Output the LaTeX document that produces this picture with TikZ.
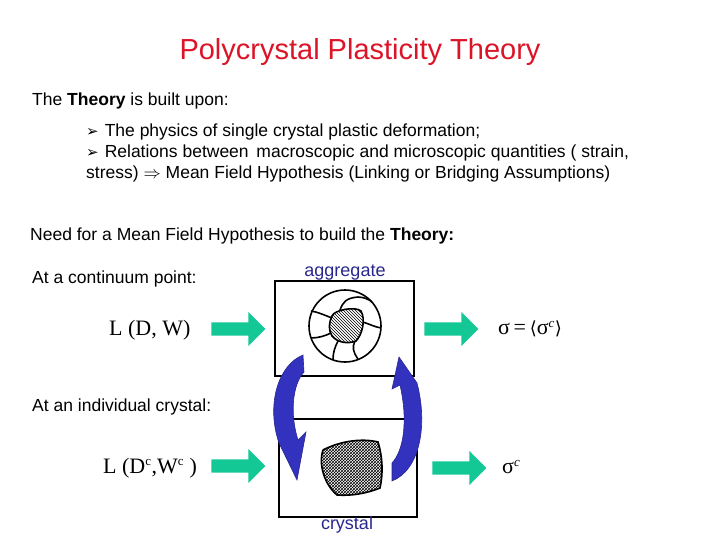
\documentclass[tikz,border=0pt]{standalone}
\usepackage{fontspec}
\setmainfont{Liberation Sans}
\newfontfamily\serifr{Liberation Serif}
\newfontfamily\dejavu{DejaVu Sans}
\usetikzlibrary{patterns,shapes.arrows}
\definecolor{titlered}{RGB}{220,20,40}
\definecolor{agreen}{RGB}{20,200,150}
\definecolor{ablue}{RGB}{50,50,190}
\definecolor{lblue}{RGB}{40,40,140}
\tikzset{
  txt/.style={anchor=west,inner sep=0pt,font=\fontsize{17.5}{21}\selectfont},
  box/.style={draw,line width=2pt},
  garrow/.style={single arrow,fill=agreen,draw=none,minimum height=54pt,minimum width=34pt,single arrow head extend=5pt,single arrow head indent=0pt,inner sep=3pt},
  curv/.style={fill=ablue,draw=lblue,line width=0.6pt},
  gl/.style={line width=1.6pt},
  mth/.style={inner sep=0pt,font=\serifr\fontsize{22}{25}\selectfont}
}
\begin{document}
\begin{tikzpicture}[x=1pt,y=-1pt]
\useasboundingbox (0,0) rectangle (720,540);
\node[font=\fontsize{29}{34}\selectfont,text=titlered] (title) at (360,52) {Polycrystal Plasticity Theory};
\node[txt] (t1) at (32,101) {The \textbf{Theory} is built upon:};
\node[txt] (b1) at (86,132) {{\dejavu\fontsize{15}{16}\selectfont ➢}\hspace{6pt}The physics of single crystal plastic deformation;};
\node[txt] (b2) at (86,153) {{\dejavu\fontsize{15}{16}\selectfont ➢}\hspace{6pt}Relations between\, macroscopic and microscopic quantities ( strain,};
\node[txt] (b3) at (86,174) {stress) {\dejavu$\Rightarrow$} Mean Field Hypothesis (Linking or Bridging Assumptions)};
\node[txt] (need) at (30,236) {Need for a Mean Field Hypothesis to build the \textbf{Theory:}};
\node[txt] (cont) at (32,279) {At a continuum point:};
\node[txt] (indiv) at (32,407) {At an individual crystal:};
% boxes
\draw[box] (275,281) rectangle (414,376);
\draw[box] (279,419) rectangle (417,517);
\node[text=lblue,font=\fontsize{18}{20}\selectfont,inner sep=0pt] (agg) at (345,273) {aggregate};
\node[text=lblue,font=\fontsize{18}{20}\selectfont,inner sep=0pt] (cry) at (347,525) {crystal};
% aggregate drawing
\draw[gl] (345,326) circle (36);
\draw[gl,pattern=north west lines] (332,316) .. controls (334,310) and (355,306) .. (361,311) .. controls (366,320) and (362,335) .. (356,341) .. controls (348,344) and (338,343) .. (332,336) .. controls (328,330) and (329,322) .. (332,316);
\draw[gl] (332,318) .. controls (324,315) and (318,312) .. (311,311);
\draw[gl] (340,310) .. controls (343,302) and (346,298) .. (358,297) .. controls (364,297) and (370,300) .. (372,302);
\draw[gl] (363,322) .. controls (369,324) and (375,327) .. (381,328);
\draw[gl] (355,341) .. controls (352,347) and (353,352) .. (358,359);
\draw[gl] (338,341) .. controls (335,347) and (333,352) .. (333,360);
\draw[gl] (331,333) .. controls (325,336) and (318,338) .. (311,338);
% crystal drawing
\draw[gl,pattern=crosshatch] (323,450) .. controls (340,441) and (362,438) .. (378,442) .. controls (383,458) and (383,475) .. (380,488) .. controls (365,494) and (350,496) .. (337,495) .. controls (325,485) and (318,465) .. (323,450);
% curved arrows
\draw[curv] (303,355) .. controls (278,365) and (266,405) .. (279,443) -- (297,480) -- (306,432) -- (298,440) .. controls (290,415) and (292,385) .. (304,372) -- cycle;
\draw[curv] (392,481) .. controls (420,470) and (428,425) .. (417,383) -- (399,357) -- (392,389) -- (400,385) .. controls (408,420) and (404,450) .. (392,463) -- cycle;
% green arrows
\node[garrow] (g1) at (235,329) {};
\node[garrow] (g2) at (235,466) {};
\node[garrow] (g3) at (448,329) {};
\node[garrow] (g4) at (456,468) {};
\node[mth,anchor=west] (L1) at (109,330) {L (D, W)};
\node[mth,anchor=west] (L2) at (103,468) {L (D\textsuperscript{\fontsize{13}{14}\selectfont c},W\textsuperscript{\fontsize{13}{14}\selectfont c} )};
\node[mth,anchor=west] (s1) at (498,329) {σ\,=\,{\dejavu\fontsize{18}{20}\selectfont ⟨}σ\textsuperscript{\itshape\fontsize{13}{14}\selectfont c}{\dejavu\fontsize{18}{20}\selectfont ⟩}};
\node[mth,anchor=west] (s2) at (502,467) {σ\textsuperscript{\itshape\fontsize{13}{14}\selectfont c}};
\end{tikzpicture}
\end{document}
